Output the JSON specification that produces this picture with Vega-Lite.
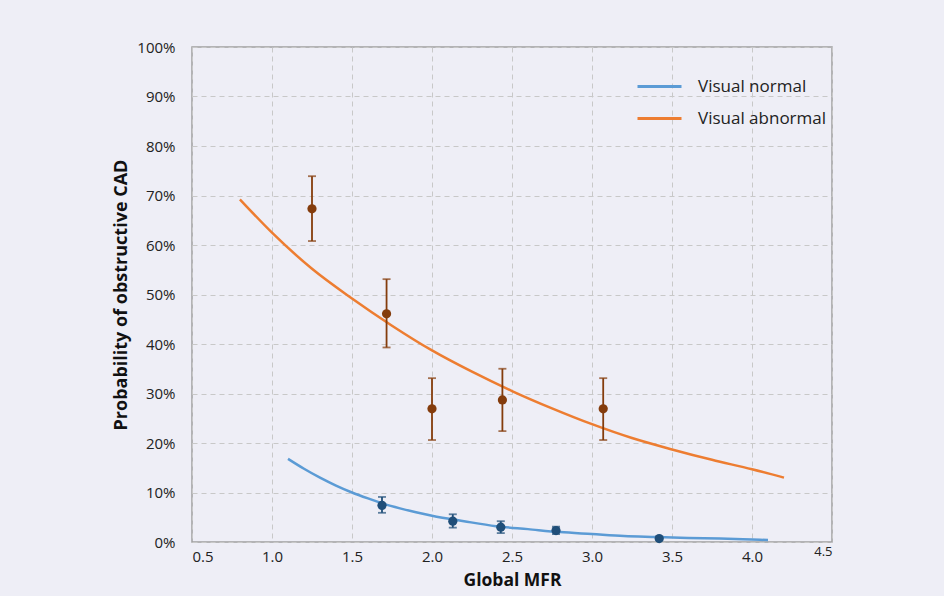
{
  "$schema": "https://vega.github.io/schema/vega-lite/v6.json",
  "width": 640,
  "height": 495,
  "autosize": {"type": "none"},
  "padding": {"left": 192, "top": 47, "right": 112, "bottom": 54},
  "background": "#eeeef6",
  "config": {
    "font": "Open Sans",
    "view": {"stroke": "#a0a0a0", "strokeWidth": 1.5, "fill": "#eeeef6"},
    "axis": {
      "gridColor": "#c8c8c8",
      "gridDash": [5, 4],
      "gridWidth": 1,
      "domain": false,
      "ticks": false,
      "labelColor": "#222222",
      "labelFontSize": 15,
      "titleColor": "#111111",
      "titleFontWeight": "bold"
    }
  },
  "datasets": {
    "curves": [
      {"mfr": 0.8, "prob": 0.692, "series": "Visual abnormal"},
      {"mfr": 1.0, "prob": 0.625, "series": "Visual abnormal"},
      {"mfr": 1.25, "prob": 0.552, "series": "Visual abnormal"},
      {"mfr": 1.5, "prob": 0.492, "series": "Visual abnormal"},
      {"mfr": 1.75, "prob": 0.437, "series": "Visual abnormal"},
      {"mfr": 2.0, "prob": 0.387, "series": "Visual abnormal"},
      {"mfr": 2.25, "prob": 0.344, "series": "Visual abnormal"},
      {"mfr": 2.5, "prob": 0.305, "series": "Visual abnormal"},
      {"mfr": 2.75, "prob": 0.27, "series": "Visual abnormal"},
      {"mfr": 3.0, "prob": 0.238, "series": "Visual abnormal"},
      {"mfr": 3.25, "prob": 0.21, "series": "Visual abnormal"},
      {"mfr": 3.5, "prob": 0.187, "series": "Visual abnormal"},
      {"mfr": 3.75, "prob": 0.166, "series": "Visual abnormal"},
      {"mfr": 4.0, "prob": 0.147, "series": "Visual abnormal"},
      {"mfr": 4.2, "prob": 0.13, "series": "Visual abnormal"},
      {"mfr": 1.1, "prob": 0.168, "series": "Visual normal"},
      {"mfr": 1.2, "prob": 0.148, "series": "Visual normal"},
      {"mfr": 1.3, "prob": 0.13, "series": "Visual normal"},
      {"mfr": 1.4, "prob": 0.114, "series": "Visual normal"},
      {"mfr": 1.5, "prob": 0.1, "series": "Visual normal"},
      {"mfr": 1.6, "prob": 0.088, "series": "Visual normal"},
      {"mfr": 1.7, "prob": 0.077, "series": "Visual normal"},
      {"mfr": 1.8, "prob": 0.068, "series": "Visual normal"},
      {"mfr": 1.9, "prob": 0.06, "series": "Visual normal"},
      {"mfr": 2.0, "prob": 0.053, "series": "Visual normal"},
      {"mfr": 2.2, "prob": 0.042, "series": "Visual normal"},
      {"mfr": 2.4, "prob": 0.032, "series": "Visual normal"},
      {"mfr": 2.6, "prob": 0.026, "series": "Visual normal"},
      {"mfr": 2.8, "prob": 0.02, "series": "Visual normal"},
      {"mfr": 3.0, "prob": 0.016, "series": "Visual normal"},
      {"mfr": 3.2, "prob": 0.012, "series": "Visual normal"},
      {"mfr": 3.4, "prob": 0.01, "series": "Visual normal"},
      {"mfr": 3.6, "prob": 0.008, "series": "Visual normal"},
      {"mfr": 3.8, "prob": 0.007, "series": "Visual normal"},
      {"mfr": 4.0, "prob": 0.005, "series": "Visual normal"},
      {"mfr": 4.1, "prob": 0.004, "series": "Visual normal"}
    ],
    "points": [
      {"mfr": 1.25, "prob": 0.673, "lo": 0.608, "hi": 0.739, "group": "abnormal"},
      {"mfr": 1.716, "prob": 0.461, "lo": 0.393, "hi": 0.531, "group": "abnormal"},
      {"mfr": 2.0, "prob": 0.269, "lo": 0.206, "hi": 0.331, "group": "abnormal"},
      {"mfr": 2.44, "prob": 0.287, "lo": 0.224, "hi": 0.35, "group": "abnormal"},
      {"mfr": 3.07, "prob": 0.269, "lo": 0.206, "hi": 0.331, "group": "abnormal"},
      {"mfr": 1.6875, "prob": 0.074, "lo": 0.059, "hi": 0.091, "group": "normal"},
      {"mfr": 2.13, "prob": 0.042, "lo": 0.029, "hi": 0.056, "group": "normal"},
      {"mfr": 2.43, "prob": 0.03, "lo": 0.018, "hi": 0.042, "group": "normal"},
      {"mfr": 2.775, "prob": 0.023, "lo": 0.016, "hi": 0.031, "group": "normal"},
      {"mfr": 3.42, "prob": 0.007, "lo": 0.005, "hi": 0.009, "group": "normal"}
    ]
  },
  "layer": [
    {
      "data": {"name": "curves"},
      "mark": {"type": "line", "strokeWidth": 2.5, "interpolate": "monotone"},
      "encoding": {
        "x": {
          "field": "mfr", "type": "quantitative",
          "scale": {"domain": [0.5, 4.5], "nice": false, "zero": false},
          "axis": {
            "values": [0.5, 1.0, 1.5, 2.0, 2.5, 3.0, 3.5, 4.0, 4.5],
            "format": ".1f",
            "title": "Global MFR",
            "titleFontSize": 17.5,
            "titlePadding": 7,
            "labelPadding": {"condition": {"test": "datum.value == 4.5", "value": 3}, "value": 7},
            "labelFontSize": {"condition": {"test": "datum.value == 4.5", "value": 13}, "value": 15}
          }
        },
        "y": {
          "field": "prob", "type": "quantitative",
          "scale": {"domain": [0, 1], "nice": false},
          "axis": {
            "values": [0, 0.1, 0.2, 0.3, 0.4, 0.5, 0.6, 0.7, 0.8, 0.9, 1.0],
            "format": ".0%",
            "title": "Probability of obstructive CAD",
            "titleFontSize": 18,
            "labelPadding": 17,
            "titlePadding": 6
          }
        },
        "color": {
          "field": "series", "type": "nominal",
          "scale": {"domain": ["Visual normal", "Visual abnormal"], "range": ["#5b9bd5", "#ed7d31"]},
          "legend": {
            "title": null,
            "orient": "none",
            "legendX": 444,
            "legendY": 16,
            "padding": 0,
            "symbolType": "stroke",
            "symbolSize": 1936,
            "symbolStrokeWidth": 3,
            "labelFontSize": 17,
            "labelColor": "#222222",
            "labelOffset": 15,
            "rowPadding": -12
          }
        }
      }
    },
    {
      "data": {"name": "points"},
      "mark": {"type": "rule", "strokeWidth": 1.8},
      "encoding": {
        "x": {"field": "mfr", "type": "quantitative"},
        "y": {"field": "lo", "type": "quantitative"},
        "y2": {"field": "hi"},
        "stroke": {"field": "group", "type": "nominal", "scale": {"domain": ["normal", "abnormal"], "range": ["#1f4e79", "#843c0c"]}, "legend": null}
      }
    },
    {
      "data": {"name": "points"},
      "mark": {"type": "tick", "orient": "horizontal", "size": 8, "thickness": 1.8},
      "encoding": {
        "x": {"field": "mfr", "type": "quantitative"},
        "y": {"field": "lo", "type": "quantitative"},
        "color": {"field": "group", "type": "nominal", "scale": {"domain": ["normal", "abnormal"], "range": ["#1f4e79", "#843c0c"]}, "legend": null}
      }
    },
    {
      "data": {"name": "points"},
      "mark": {"type": "tick", "orient": "horizontal", "size": 8, "thickness": 1.8},
      "encoding": {
        "x": {"field": "mfr", "type": "quantitative"},
        "y": {"field": "hi", "type": "quantitative"},
        "color": {"field": "group", "type": "nominal", "scale": {"domain": ["normal", "abnormal"], "range": ["#1f4e79", "#843c0c"]}, "legend": null}
      }
    },
    {
      "data": {"name": "points"},
      "mark": {"type": "circle", "size": 85, "opacity": 1},
      "encoding": {
        "x": {"field": "mfr", "type": "quantitative"},
        "y": {"field": "prob", "type": "quantitative"},
        "fill": {"field": "group", "type": "nominal", "scale": {"domain": ["normal", "abnormal"], "range": ["#1f4e79", "#843c0c"]}, "legend": null}
      }
    }
  ],
  "resolve": {"scale": {"color": "independent"}}
}
